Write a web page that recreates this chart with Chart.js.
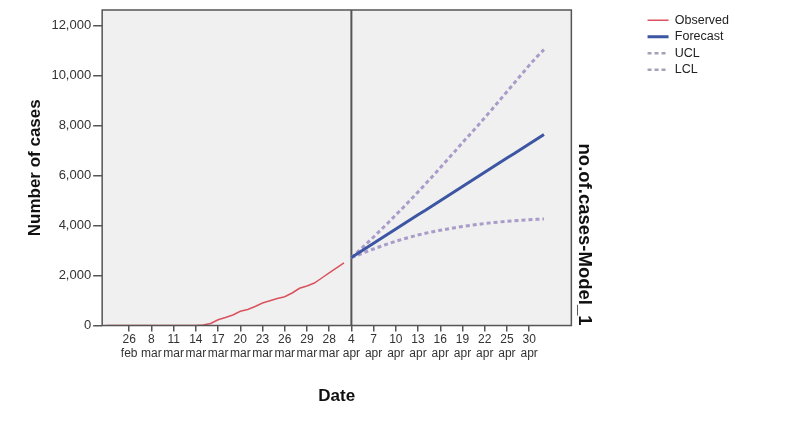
<!DOCTYPE html>
<html>
<head>
<meta charset="utf-8">
<script src="https://cdn.jsdelivr.net/npm/chart.js@4"></script>
<style>
  html,body{margin:0;padding:0;background:#fff}
</style>
</head>
<body>
<canvas id="chart" width="800" height="421"></canvas>
<script>
// x axis = days counted from 26 feb tick
const tickDays=[0,3,6,9,12,15,18,21,24,27,30,33,36,39,42,45,48,51,54];
const dateLabels=[["26","feb"],["8","mar"],["11","mar"],["14","mar"],["17","mar"],["20","mar"],["23","mar"],["26","mar"],["29","mar"],["28","mar"],
  ["4","apr"],["7","apr"],["10","apr"],["13","apr"],["16","apr"],["19","apr"],["22","apr"],["25","apr"],["30","apr"]];
const yTicks=[0,2000,4000,6000,8000,10000,12000];

// observed series, one value a day starting at day -3
const obsStartDay=-3;
const observed=[0,0,0,0,0,0,0,0,0,0,0,0,0,20,80,230,320,420,570,640,760,900,990,1080,1150,1300,1490,1580,1700,1900,2100,2300,2500];

// forecast + limits, one value a day starting at day 30 (4 apr)
const fcStartDay=30;
const forecast=[2720,2910,3100,3290,3480,3670,3860,4050,4240,4430,4610,4800,4990,5180,5370,5560,5750,5940,6130,6320,6510,6700,6880,7070,7260,7450,7640];
const ucl=[2720,2990,3260,3540,3830,4120,4420,4720,5030,5340,5660,5980,6310,6640,6970,7310,7640,7970,8310,8650,9000,9350,9700,10050,10400,10730,11030];
const lcl=[2720,2830,2950,3060,3170,3270,3370,3460,3540,3620,3690,3750,3810,3860,3910,3960,4000,4040,4080,4110,4140,4170,4190,4210,4230,4245,4260];

const yMax=12615;

const toPts=(arr,start)=>arr.map((v,i)=>({x:start+i,y:v}));

Chart.defaults.font.family='Arial, "Liberation Sans", sans-serif';
Chart.defaults.color='#222';

const plotFrame={
  id:'plotFrame',
  beforeDraw(chart){
    const {ctx,chartArea:a}=chart;
    ctx.save();
    ctx.fillStyle='#f0f0f0';
    ctx.fillRect(a.left,a.top,a.width,a.height);
    ctx.restore();
  },
  beforeDatasetsDraw(chart){
    const {ctx,chartArea:a,scales:{x}}=chart;
    const px=x.getPixelForValue(fcStartDay);
    ctx.save();
    ctx.strokeStyle='#555';
    ctx.lineWidth=2;
    ctx.beginPath();ctx.moveTo(px,a.top);ctx.lineTo(px,a.bottom);ctx.stroke();
    ctx.restore();
  },
  afterDraw(chart){
    const {ctx,chartArea:a}=chart;
    ctx.save();
    ctx.strokeStyle='#555';
    ctx.lineWidth=1.5;
    ctx.strokeRect(a.left,a.top,a.width,a.height);
    ctx.restore();
  }
};

const titleFont={size:17,weight:'bold'};

new Chart(document.getElementById('chart'),{
  type:'line',
  data:{datasets:[
    {label:'Observed',data:toPts(observed,obsStartDay),borderColor:'#d9535f',backgroundColor:'#d9535f',borderWidth:1.5,pointRadius:0,pointStyle:'line'},
    {label:'Forecast',data:toPts(forecast,fcStartDay),borderColor:'#3d56a3',backgroundColor:'#3d56a3',borderWidth:3,pointRadius:0,pointStyle:'line'},
    {label:'UCL',data:toPts(ucl,fcStartDay),borderColor:'#a99cc9',backgroundColor:'#a99cc9',borderWidth:3,borderDash:[4,3],pointRadius:0,pointStyle:'line'},
    {label:'LCL',data:toPts(lcl,fcStartDay),borderColor:'#a99cc9',backgroundColor:'#a99cc9',borderWidth:3,borderDash:[4,3],pointRadius:0,pointStyle:'line'}
  ]},
  options:{
    responsive:false,
    animation:false,
    layout:{padding:{left:10,top:10,right:61,bottom:0}},
    plugins:{
      legend:{position:'right',align:'start',
        labels:{usePointStyle:true,pointStyleWidth:21,boxHeight:12,padding:4,font:{size:12.5},color:'#222',
          generateLabels:chart=>{
            const items=Chart.defaults.plugins.legend.labels.generateLabels(chart);
            items.forEach(it=>{
              const ds=chart.data.datasets[it.datasetIndex];
              it.lineDash=ds.borderDash||[];
              it.lineWidth=ds.borderDash?2.5:ds.borderWidth;
              it.strokeStyle=ds.borderDash?'#a3a3b8':ds.borderColor;
            });
            return items;
          }}},
      tooltip:{enabled:false}
    },
    scales:{
      x:{type:'linear',min:-3.65,max:59.7,
        afterBuildTicks:s=>{s.ticks=tickDays.map(v=>({value:v}));},
        ticks:{callback:(v,i)=>dateLabels[i],autoSkip:false,maxRotation:0,padding:1,color:'#333',font:{size:12,lineHeight:1.17}},
        grid:{drawOnChartArea:false,tickLength:6,color:'#555',lineWidth:1.5},
        border:{display:false},
        title:{display:true,text:'Date',font:titleFont,color:'#111',padding:{top:25,bottom:14}}
      },
      y:{min:0,max:yMax,
        afterBuildTicks:s=>{s.ticks=yTicks.map(v=>({value:v}));},
        ticks:{padding:2,color:'#333',font:{size:13},callback:v=>v.toLocaleString('en-US')},
        grid:{drawOnChartArea:false,tickLength:9,color:'#555',lineWidth:1.5},
        border:{display:false},
        title:{display:true,text:'Number of cases',font:titleFont,color:'#111',padding:{top:15,bottom:4}}
      },
      y2:{position:'right',display:true,min:0,max:yMax,
        ticks:{display:false},
        grid:{display:false,drawTicks:false},
        border:{display:false},
        title:{display:true,text:'no.of.cases-Model_1',align:'start',font:{size:18.5,weight:'bold'},color:'#111',padding:{top:48,bottom:2}}
      }
    }
  },
  plugins:[plotFrame]
});
</script>
</body>
</html>
